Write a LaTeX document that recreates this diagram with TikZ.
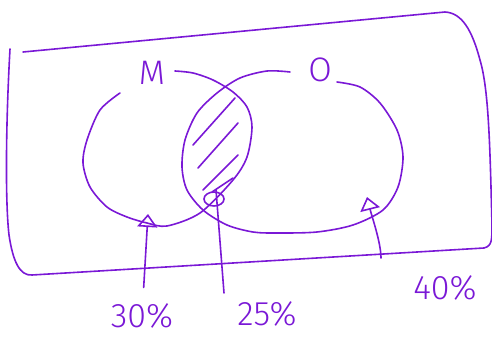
\documentclass[tikz,border=0pt]{standalone}
\usepackage{fontspec}
\setsansfont{Fira Sans Light}
\usetikzlibrary{arrows.meta}
\definecolor{ink}{RGB}{122,24,214}
\begin{document}
\begin{tikzpicture}[x=1pt,y=-1pt,
		hand/.style={draw=ink, line width=1.6pt, line cap=round, line join=round},
		lbl/.style={text=ink, font=\sffamily\fontsize{34}{34}\selectfont, inner sep=0pt},
		arr/.style={hand, -{Triangle[open, length=13pt, width=20pt]}}]
		\useasboundingbox (0,0) rectangle (492,339);
		\draw[hand] (10,49) .. controls (6,120) and (5,200) .. (9,235) .. controls (13,262) and (20,276) .. (32,275) -- (484,248) .. controls (492,246) and (492,240) .. (492,225) .. controls (490,150) and (489,90) .. (480,60) .. controls (472,30) and (462,13) .. (445,12) -- (23,52);
		\node[lbl] (M) at (152,73) {M};
		\node[lbl] (O) at (320,70) {O};
		\node[lbl] (p30) at (142,316) {30\%};
		\node[lbl] (p25) at (267,314) {25\%};
		\node[lbl] (p40) at (445,288) {40\%};
		\draw[hand] plot[smooth] coordinates {(120,93) (100,110) (87,140) (83,163) (90,187) (107,207) (127,217) (147,223) (167,226) (200,213) (233,180) (247,157) (252,127) (247,107) (233,92) (213,80) (193,73) (175,71)};
		\draw[hand] plot[smooth] coordinates {(290,72) (267,71) (240,78) (217,93) (197,113) (185,140) (182,167) (187,190) (203,210) (227,225) (253,232) (277,233) (317,232) (353,225) (383,210) (398,187) (403,157) (397,130) (380,103) (360,87) (337,82)};
		\foreach \x/\y/\u/\v in {193/145/235/98, 198/168/238/123, 203/190/238/155, 212/192/233/178}
			\draw[hand] (\x,\y) -- (\u,\v);
		\coordinate (a30) at (148,214);
		\coordinate (a25) at (216,190);
		\coordinate (a40) at (367,197);
		\coordinate (b25) at ([xshift=-43pt,yshift=21pt]p25);
		\coordinate (b40) at ([xshift=-64pt,yshift=30pt]p40);
		\draw[arr] (p30) -- (a30) [shorten <=16pt];
		\draw[hand] (b25) -- (a25);
		\draw[hand] (214,199) ellipse [x radius=10, y radius=7];
		\draw[arr] (b40) .. controls +(0,-15) and +(5,20) .. (a40);
	\end{tikzpicture}
\end{document}
